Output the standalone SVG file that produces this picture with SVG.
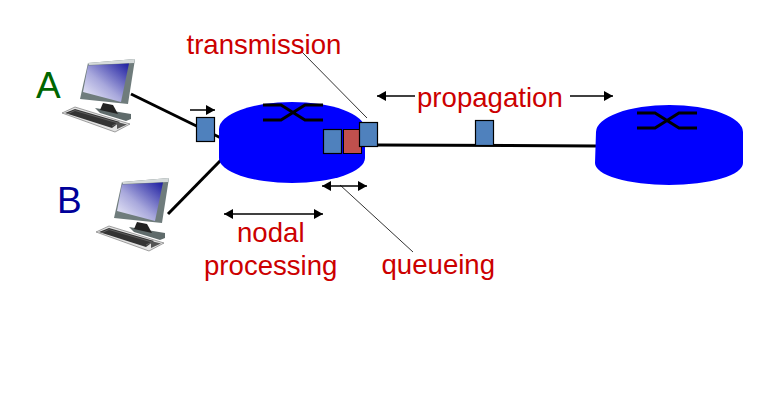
<svg xmlns="http://www.w3.org/2000/svg" width="757" height="406" viewBox="0 0 757 406">
<style>
.lbl{font-family:"Liberation Sans",Arial,sans-serif;font-size:27.6px;fill:#cc0000}
.big{font-family:"Liberation Sans",Arial,sans-serif;font-size:37px}
.link{stroke:#000;stroke-width:3;fill:none}
.thin{stroke:#333;stroke-width:1;fill:none}
.arr{stroke:#000;stroke-width:1.5;fill:none;marker-end:url(#h);marker-start:url(#hs)}
.arrl{stroke:#000;stroke-width:1.5;fill:none;marker-start:url(#hs)}
.arr1{stroke:#000;stroke-width:1.5;fill:none;marker-end:url(#h)}
.pkt{fill:#4f81bd;stroke:#000;stroke-width:1.2}
.pktr{fill:#c0504d;stroke:#000;stroke-width:1}
.sw{stroke:#000;stroke-width:3;fill:none}
</style>
<defs>
<marker id="h" markerUnits="userSpaceOnUse" markerWidth="10" markerHeight="10" refX="9" refY="5" orient="auto"><path d="M0 0L9 5L0 10Z" fill="#000"/></marker>
<marker id="hs" markerUnits="userSpaceOnUse" markerWidth="10" markerHeight="10" refX="0" refY="5" orient="auto"><path d="M9 0L0 5L9 10Z" fill="#000"/></marker>
<linearGradient id="scr" x1="1" y1="0" x2="0" y2="1"><stop offset="0" stop-color="#1c1ca0"/><stop offset=".55" stop-color="#a8a8dc"/><stop offset="1" stop-color="#f4f4fc"/></linearGradient>
<g id="pc">
<path d="M95 108L131 114L131 119L126 121L100 113Z" fill="#5f6b6b"/>
<path d="M62 113L75 107L130 124L115 132Z" fill="#e2e2e2" stroke="#666" stroke-width=".6"/>
<path d="M65 113L75 109L120 122L112 128Z" fill="#333"/>
<path d="M67 114L75 110.500L118 123L112 126" fill="none" stroke="#888" stroke-width=".5"/>
<path d="M117 122L127 124.500L117 129Z" fill="#555"/>
<path d="M103 103L113 105L118 114L100 110Z" fill="#222"/>
<path d="M88 63L135 59L128 104L80 99Z" fill="#6f7c7c"/>
<path d="M88 63L135 59L134 63L89 65Z" fill="#d5dada"/>
<path d="M88 65.500L129 63.500L121 102L83 92Z" fill="url(#scr)"/>
</g>
<g id="sw-sym">
<path class="sw" d="M0 0H18L30 7.500L42 0H60M0 15H18L30 7.500L42 15H60"/>
</g>
</defs>

<g id="connectors">
<path class="link" d="M131 94L221 138"/>
<path class="link" d="M168 214L221 160"/>
<path class="link" d="M378 145L596 146"/>
<path class="thin" d="M302 52L367 118"/>
<path class="thin" d="M340 185L413 252"/>
<path class="arr1" d="M190 110H215"/>
<path class="arrl" d="M377 96H415"/>
<path class="arr1" d="M570 96H613"/>
<path class="arr" d="M322 186H367"/>
<path class="arr" d="M224 214H323"/>
</g>

<g id="host-A"><use href="#pc"/></g>
<g id="host-B"><use href="#pc" x="34" y="119"/></g>

<g id="router-1">
<path d="M219 129A73 27 0 0 1 365 129V158A73 25 0 0 1 219 158Z" fill="#0000ff"/>
<use href="#sw-sym" x="263" y="105"/>
</g>
<g id="router-2">
<path d="M596 132A73.500 27 0 0 1 743 132V163A74 22 0 0 1 595 163Z" fill="#0000ff"/>
<use href="#sw-sym" x="637" y="113"/>
</g>

<g id="packets">
<rect class="pkt" x="196.500" y="117.500" width="18" height="24"/>
<rect class="pkt" x="323.500" y="129.500" width="18" height="24"/>
<rect class="pktr" x="343.500" y="129.500" width="18" height="24"/>
<rect class="pkt" x="359.500" y="122.500" width="18" height="24"/>
<rect class="pkt" x="475.500" y="120.500" width="18" height="25"/>
</g>

<g id="labels">
<text class="big" x="36" y="98" fill="#006600">A</text>
<text class="big" x="57" y="213" fill="#000099">B</text>
<text class="lbl" x="186.500" y="54">transmission</text>
<text class="lbl" x="417" y="107">propagation</text>
<text class="lbl" x="237" y="242">nodal</text>
<text class="lbl" x="204" y="275">processing</text>
<text class="lbl" x="381.500" y="274">queueing</text>
</g>
</svg>
